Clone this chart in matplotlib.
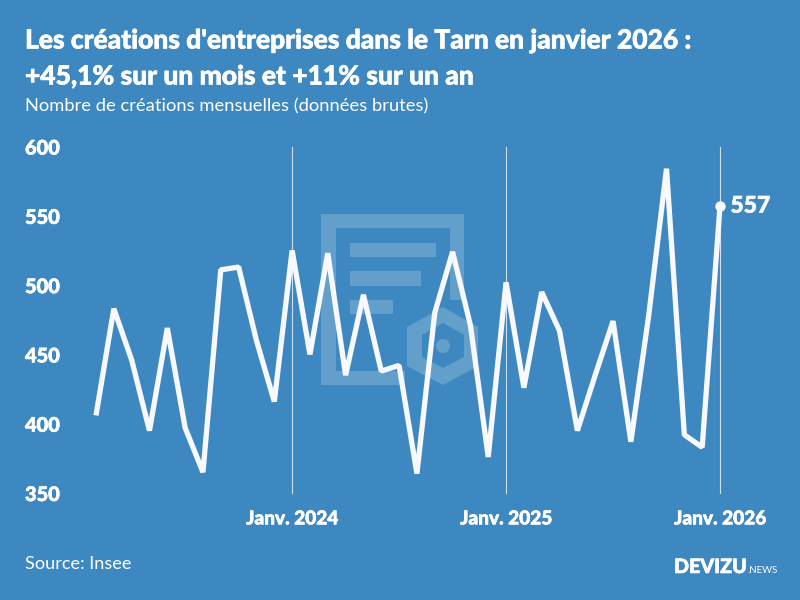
import matplotlib
matplotlib.use("Agg")
import matplotlib.pyplot as plt
import matplotlib.patheffects as pe
from matplotlib.patches import Polygon, Circle, Rectangle
from matplotlib.transforms import Affine2D

months = ["2023-02","2023-03","2023-04","2023-05","2023-06","2023-07","2023-08","2023-09","2023-10","2023-11","2023-12",
          "2024-01","2024-02","2024-03","2024-04","2024-05","2024-06","2024-07","2024-08","2024-09","2024-10","2024-11","2024-12",
          "2025-01","2025-02","2025-03","2025-04","2025-05","2025-06","2025-07","2025-08","2025-09","2025-10","2025-11","2025-12",
          "2026-01"]
values = [406,483,446,395,469,397,365,511,513,460,416,
          525,450,523,435,493,438,442,364,480,524,471,376,
          502,426,495,467,395,435,474,387,478,584,392,383,
          557]
y_ticks = [350,400,450,500,550,600]
x_tick_months = ["2024-01","2025-01","2026-01"]
x_tick_labels = ["Janv. 2024","Janv. 2025","Janv. 2026"]
title_lines = ["Les créations d'entreprises dans le Tarn en janvier 2026 :","+45,1% sur un mois et +11% sur un an"]
subtitle = "Nombre de créations mensuelles (données brutes)"
source = "Source: Insee"

BG = "#3d88c0"
WM = "#639fcb"
LINE = "#f8f9ff"
plt.rcParams["font.family"] = ["Lato", "DejaVu Sans"]

fig = plt.figure(figsize=(8,6), dpi=100, facecolor=BG)
px = Affine2D().scale(1,-1).translate(0,600)

def heavy(color="white", w=0.45):
    return [pe.withStroke(linewidth=w, foreground=color)]

def rect(x0,y0,x1,y1):
    fig.add_artist(Rectangle((x0,y0),x1-x0,y1-y0,transform=px,fc=WM,ec="none",zorder=0))
rect(321,214,464,228); rect(321,228,336,385); rect(336,371,405,385); rect(450,228,464,300)
rect(350,243,436,257); rect(350,271,421,286); rect(350,300,393,314)
hex_outer=[(443,307),(478,327),(478,366),(443,385),(407,366),(407,327)]
hex_inner=[(443,323),(464,335),(464,357),(443,368),(422,357),(422,335)]
fig.add_artist(Polygon(hex_outer,closed=True,transform=px,fc=WM,ec="none",zorder=0))
fig.add_artist(Polygon(hex_inner,closed=True,transform=px,fc=BG,ec="none",zorder=0))
fig.add_artist(Circle((443,346),7,transform=px,fc=WM,ec="none",zorder=0))

L,R,T,B = 96,720,146.5,493
ax = fig.add_axes([L/800,(600-B)/600,(R-L)/800,(B-T)/600])
ax.patch.set_alpha(0)
for s in ax.spines.values(): s.set_visible(False)
xs = list(range(len(months)))
ax.set_xlim(0,len(months)-1)
ax.set_ylim(350,600)
xt = [months.index(m) for m in x_tick_months]
ax.set_xticks(xt,x_tick_labels)
ax.set_yticks(y_ticks)
ax.tick_params(axis="both",length=0,labelcolor="white")
ax.tick_params(axis="y",pad=0)
ax.tick_params(axis="x",pad=12.5)
for l in ax.get_xticklabels():
    l.set_fontweight("black"); l.set_fontsize(13.7); l.set_path_effects(heavy())
for l in ax.get_yticklabels():
    l.set_fontweight("black"); l.set_fontsize(14.4); l.set_horizontalalignment("left")
    l.set_verticalalignment("center_baseline")
    l.set_x((25-L)/(R-L)); l.set_path_effects(heavy())
for x in xt:
    ax.axvline(x,color="white",lw=0.8,alpha=0.75,zorder=1,clip_on=False)
ax.plot(xs,values,color=LINE,lw=3.8,solid_joinstyle="bevel",solid_capstyle="butt",clip_on=False,zorder=3)
ax.plot(xs[-1],values[-1],"o",color=LINE,ms=7.5,mec="none",clip_on=False,zorder=4)
ax.annotate(str(values[-1]),(xs[-1],values[-1]),xytext=(7.5,0),textcoords="offset points",color=LINE,
            fontsize=16.5,fontweight="black",va="center",annotation_clip=False,path_effects=heavy(LINE))

def t(x,y,s,**k):
    return fig.text(x/800,1-y/600,s,color="white",va="baseline",**k)
t(25,48.5,title_lines[0],fontsize=19,fontweight="black",path_effects=heavy())
t(25,84.5,title_lines[1],fontsize=19,fontweight="black",path_effects=heavy())
t(25,111,subtitle,fontsize=13.2)
t(25,569,source,fontsize=13.1)
t(674,573,"DEVIZU",fontsize=14.2,fontweight="black",path_effects=heavy())
t(747,573,".NEWS",fontsize=6.9)

fig.savefig("out.png",dpi=100,facecolor=BG)
